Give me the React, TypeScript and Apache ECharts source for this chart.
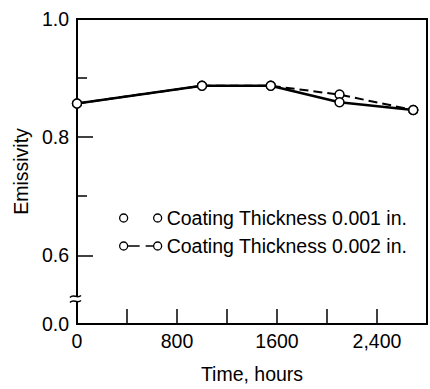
import React, { useEffect, useRef } from "react";
import * as echarts from "echarts";

// ---- data ----
const TIME_HOURS = [0, 1000, 1550, 2100, 2690];
const THICK_001 = [0.857, 0.887, 0.887, 0.859, 0.846];
const THICK_002 = [0.857, 0.887, 0.887, 0.872, 0.846];
const SERIES_NAMES = ["Coating Thickness 0.001 in.", "Coating Thickness 0.002 in."];

const X_LABEL_VALUES = [0, 800, 1600, 2400];
const X_LABEL_TEXTS = ["0", "800", "1600", "2,400"];
// the axis is broken: its bottom stands for 0.0
const Y_BASE = 0.4836;
const Y_LABEL_VALUES = [Y_BASE, 0.6, 0.8, 1.0];
const Y_LABEL_TEXTS = ["0.0", "0.6", "0.8", "1.0"];
const Y_MAJOR_TICKS = [0.6, 0.8];
const Y_MINOR_TICKS = [0.7, 0.9];

const FONT = "'Liberation Sans', Arial, Helvetica, sans-serif";
const FS = 19.5;

const ICON_SOLID =
  "path://M0,4 A4,4 0 1,0 8,4 A4,4 0 1,0 0,4 Z M34,4 A4,4 0 1,0 42,4 A4,4 0 1,0 34,4 Z";
const ICON_DASHED =
  "path://M0,4 A4,4 0 1,0 8,4 A4,4 0 1,0 0,4 Z M34,4 A4,4 0 1,0 42,4 A4,4 0 1,0 34,4 Z M8,4 L20,4 M26,4 L34,4";

function labelFor(values: number[], texts: string[], v: number) {
  for (let i = 0; i < values.length; i++) {
    if (Math.abs(values[i] - v) < 1e-6) return texts[i];
  }
  return "";
}

export default function App() {
  const ref = useRef<HTMLDivElement>(null);
  useEffect(() => {
    if (!ref.current) return;
    const chart = echarts.init(ref.current, undefined, { renderer: "svg" });
    const pairs = (ys: number[]) => TIME_HOURS.map((t, i) => [t, ys[i]]);
    const commonY = {
      type: "value",
      min: Y_BASE,
      max: 1.0,
      splitLine: { show: false },
    };
    chart.setOption({
      animation: false,
      backgroundColor: "#fff",
      textStyle: { fontFamily: FONT },
      grid: {
        left: 77,
        right: 3,
        top: 19,
        bottom: 55,
        show: true,
        borderColor: "#000",
        borderWidth: 2,
        backgroundColor: "transparent",
      },
      xAxis: {
        type: "value",
        min: 0,
        max: 2800,
        interval: 400,
        name: "Time, hours",
        nameLocation: "middle",
        nameGap: 40,
        nameTextStyle: { fontSize: FS, color: "#000", fontFamily: FONT },
        axisLine: { show: true, lineStyle: { color: "#000", width: 2 } },
        axisTick: { show: true, inside: true, length: 15, lineStyle: { color: "#000", width: 1.5 } },
        axisLabel: {
          customValues: X_LABEL_VALUES,
          formatter: (v: number) => labelFor(X_LABEL_VALUES, X_LABEL_TEXTS, v),
          fontSize: FS,
          color: "#000",
          fontFamily: FONT,
          margin: 7,
        },
        splitLine: { show: false },
      },
      yAxis: [
        {
          ...commonY,
          name: "Emissivity",
          nameLocation: "middle",
          nameGap: 34,
          nameTextStyle: { fontSize: FS, color: "#000", fontFamily: FONT },
          axisLine: { show: true, lineStyle: { color: "#000", width: 2 } },
          axisTick: {
            show: true,
            inside: true,
            length: 16,
            customValues: Y_MAJOR_TICKS,
            lineStyle: { color: "#000", width: 1.5 },
          },
          axisLabel: {
            customValues: Y_LABEL_VALUES,
            formatter: (v: number) => labelFor(Y_LABEL_VALUES, Y_LABEL_TEXTS, v),
            fontSize: FS,
            color: "#000",
            fontFamily: FONT,
            margin: 8,
          },
        },
        {
          ...commonY,
          position: "left",
          axisLine: { show: false },
          axisTick: {
            show: true,
            inside: true,
            length: 10,
            customValues: Y_MINOR_TICKS,
            lineStyle: { color: "#000", width: 1.5 },
          },
          axisLabel: { show: false },
        },
      ],
      legend: {
        orient: "vertical",
        left: 114,
        top: 203,
        itemWidth: 42,
        itemHeight: 8,
        itemGap: 8,
        selectedMode: false,
        textStyle: { fontSize: FS, color: "#000", fontFamily: FONT, padding: [0, 0, 0, 0] },
        itemStyle: { color: "#fff", borderColor: "#000", borderWidth: 1.3, borderType: "solid" },
        data: [
          { name: SERIES_NAMES[0], icon: ICON_SOLID },
          { name: SERIES_NAMES[1], icon: ICON_DASHED },
        ],
      },
      series: [
        {
          name: SERIES_NAMES[1],
          type: "line",
          data: pairs(THICK_002),
          symbol: "circle",
          symbolSize: 9,
          z: 2,
          lineStyle: { color: "#000", width: 2, type: [9, 5] },
          itemStyle: { color: "#fff", borderColor: "#000", borderWidth: 1.5 },
        },
        {
          name: SERIES_NAMES[0],
          type: "line",
          data: pairs(THICK_001),
          symbol: "circle",
          symbolSize: 9,
          z: 3,
          lineStyle: { color: "#000", width: 2.6 },
          itemStyle: { color: "#fff", borderColor: "#000", borderWidth: 1.5 },
        },
      ],
      graphic: [
        {
          type: "rect",
          z: 100,
          shape: { x: 72, y: 296, width: 10, height: 5 },
          style: { fill: "#fff" },
        },
        {
          type: "bezierCurve",
          z: 101,
          shape: { x1: 70, y1: 297.5, cpx1: 73.5, cpy1: 293, cpx2: 77, cpy2: 299.5, x2: 81, y2: 295.5 },
          style: { stroke: "#000", lineWidth: 1.5, fill: "none" },
        },
        {
          type: "bezierCurve",
          z: 101,
          shape: { x1: 70, y1: 302.5, cpx1: 73.5, cpy1: 298, cpx2: 77, cpy2: 304.5, x2: 81, y2: 300.5 },
          style: { stroke: "#000", lineWidth: 1.5, fill: "none" },
        },
      ],
    });
    return () => chart.dispose();
  }, []);
  return (
    <div
      ref={ref}
      style={{ position: "fixed", left: 0, top: 0, width: 430, height: 389 }}
    />
  );
}
